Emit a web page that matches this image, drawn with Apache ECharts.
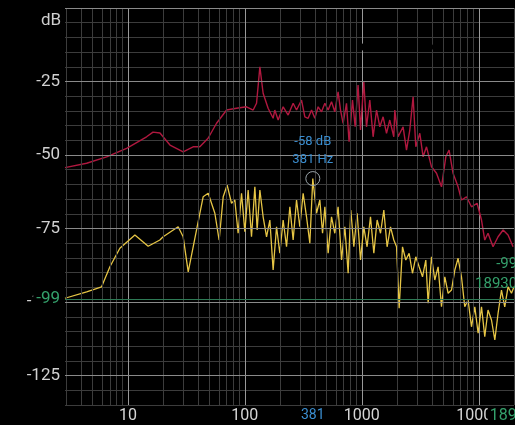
<!DOCTYPE html>
<html><head><meta charset="utf-8">
<script src="https://cdn.jsdelivr.net/npm/echarts@6/dist/echarts.min.js"></script>
<style>html,body{margin:0;padding:0;background:#000}#c{width:515px;height:425px}</style>
</head><body><div id="c"></div>
<script>
// ---- data (Hz, dB) ----
const freqRed = [2.9,4.44,6.58,9.75,14.45,16.4,18.8,22.9,29.7,36.1,41.2,48.5,57.3,69.8,84.9,103.4,117.8,125.9,134.4,143.3,158.1,174.5,180.3,192.6,212.5,234.5,258.8,276.6,305.2,325.8,347.6,371.7,396.3,423.2,452.4,483.1,515.4,550.8,587.5,627,657.7,691.8,739.6,778,832.6,877,929,974.7,1040,1096,1170,1249,1336,1426,1521,1626,1734,1877,1914,2043,2254,2410,2571,2745,2894,3132,3342,3573,3942,4351,4799,5224,5572,6026,6653,7112,7852,8662,9672,10550,11250,11990,13240,14620,16140,17790,19640];
const dbRed = [-54.3,-52.8,-50.6,-47.7,-43.8,-42.2,-42.5,-46.6,-48.9,-47.2,-47.2,-44.3,-39.2,-34.7,-34.1,-33.6,-34.7,-32.4,-20.0,-29.0,-34.1,-37.5,-34.7,-38.1,-33.6,-36.4,-32.4,-34.7,-31.3,-37.0,-37.5,-34.7,-37.5,-33.6,-35.3,-32.4,-34.7,-31.9,-35.3,-28.5,-34.7,-39.2,-32.4,-45.5,-31.3,-40.4,-26.2,-41.5,-25.1,-40.4,-31.3,-43.8,-34.7,-40.4,-37.0,-42.6,-38.1,-43.8,-34.7,-43.8,-40.4,-48.3,-41.5,-30.2,-47.2,-42.6,-50.6,-47.2,-54.0,-56.2,-60.8,-50.6,-48.3,-56.2,-60.8,-65.3,-64.2,-67.6,-66.4,-72.1,-78.9,-76.6,-81.2,-77.8,-75.5,-77.2,-81.2];
const freqYellow = [2.9,4.44,5.96,7.02,8.54,11.48,14.91,18.77,20.03,26.9,29.7,32.8,38.6,44.0,48.6,55.4,60.3,65.3,70.6,76.9,82.1,87.6,93.7,100,106.7,114.0,121.8,127.4,134.4,143.3,153.3,163.6,174.5,186.6,199.1,212.5,227.2,242.5,258.8,276.6,295.2,315,336.7,359.4,381,410,437.6,461.6,483.1,515.4,550.8,587.5,627,670.8,716,764,805,854.5,912,974.7,1040,1109,1186,1267,1352,1445,1542,1645,1759,1877,1981,2085,2228,2377,2537,2711,2894,3090,3303,3524,3690,3942,4207,4490,4799,5123,5467,5845,6237,6653,7112,7586,8099,8662,9247,9870,10550,11250,11990,12840,13710,14620,15630,16670,17790,19030,20000];
const dbYellow = [-98.7,-96.5,-94.8,-88.0,-81.7,-77.2,-81.0,-78.9,-77.8,-74.4,-77.8,-89.7,-75.5,-64.2,-63.0,-69.8,-78.9,-64.2,-60.2,-66.4,-65.3,-76.6,-63.0,-76.1,-61.9,-77.8,-60.8,-75.5,-61.9,-71.0,-77.8,-72.1,-89.1,-74.4,-83.4,-72.1,-81.2,-67.6,-78.9,-65.3,-74.4,-63.0,-71.0,-80.0,-58.0,-69.8,-65.3,-76.6,-67.6,-83.4,-71.0,-76.6,-67.6,-85.7,-74.4,-90.2,-68.7,-81.2,-69.8,-85.7,-74.4,-81.2,-71.0,-83.4,-72.1,-76.6,-68.7,-81.2,-74.4,-78.9,-81.2,-102.1,-81.2,-85.7,-83.4,-90.2,-84.6,-88.0,-91.4,-85.7,-100.4,-84.6,-92.5,-88.0,-101.6,-91.4,-97.0,-95.9,-89.1,-85.1,-91.4,-101.6,-99.3,-108.4,-101.6,-110.6,-101.6,-111.8,-102.7,-106.1,-112.9,-103.8,-95.9,-101.6,-94.8,-97.0,-94.8];
const xTickLabels = [10, 100, 1000, 10000];
const yTickLabels = [-25, -50, -75, -100, -125];
const majorDb = [0, -25, -50, -75, -100, -125];
const minorFreqs = [3,4,5,6,7,8,9,20,30,40,50,60,70,80,90,200,300,400,500,600,700,800,900,2000,3000,4000,5000,6000,7000,8000,9000,20000];
const peakFreq = 381, peakDb = -58;
const cursorFreq = 18930, cursorDb = -99;
const blackMarks = [[1000, -13.3], [3810, -13.3]];
// ---------------------

const red = freqRed.map((f, i) => [f, dbRed[i]]);
const yel = freqYellow.map((f, i) => [f, dbYellow[i]]);
const blue = '#3b8ed0', green = '#34a06b';

const chart = echarts.init(document.getElementById('c'), null, {renderer: 'canvas'});
chart.setOption({
  backgroundColor: '#000',
  animation: false,
  title: {text: 'dB', left: 36, top: 7, textStyle: {color: '#cfcfcf', fontSize: 17, fontWeight: 'normal', fontFamily: 'Roboto'}},
  grid: {left: 65, right: 1, top: 8, bottom: 20},
  xAxis: {
    type: 'log', logBase: 10, min: 2.9, max: 20000,
    axisLine: {show: false}, axisTick: {show: false},
    splitLine: {show: true, showMinLine: false, showMaxLine: false, lineStyle: {color: '#999999', width: 1}},
    axisLabel: {
      color: '#d6d6d6', fontSize: 16, fontFamily: 'Roboto', margin: 3,
      showMinLabel: false, showMaxLabel: false,
      formatter: v => { const r = Math.round(v); return xTickLabels.includes(r) ? String(r) : ''; }
    }
  },
  yAxis: {
    type: 'value', min: -135, max: 0, interval: 5,
    axisLine: {show: false}, axisTick: {show: false},
    splitLine: {show: true, lineStyle: {color: '#3c3c3c', width: 1}},
    axisLabel: {
      color: '#d0d0d0', fontSize: 17, fontFamily: 'Roboto', margin: 5,
      formatter: v => yTickLabels.includes(Math.round(v)) ? String(Math.round(v)) : ''
    }
  },
  series: [
    {
      type: 'line', data: [], silent: true, z: 1,
      markLine: {
        silent: true, symbol: 'none', label: {show: false}, animation: false,
        lineStyle: {color: '#3c3c3c', width: 1, type: 'solid'},
        data: minorFreqs.map(f => ({xAxis: f}))
      }
    },
    {
      type: 'line', data: [], silent: true, z: 1,
      markLine: {
        silent: true, symbol: 'none', label: {show: false}, animation: false,
        lineStyle: {color: '#8a8a8a', width: 1, type: 'solid'},
        data: majorDb.map(d => ({yAxis: d}))
      }
    },
    {
      name: 'red', type: 'line', data: red, showSymbol: false, z: 3,
      lineStyle: {color: '#b0183f', width: 1.4}
    },
    {
      name: 'yellow', type: 'line', data: yel, showSymbol: false, z: 4,
      lineStyle: {color: '#e6c545', width: 1.3},
      markLine: {
        silent: true, symbol: 'none', animation: false,
        lineStyle: {color: '#2e7a55', width: 1.2, type: 'solid'},
        label: {show: true, position: 'start', distance: 5, formatter: String(cursorDb),
                color: green, fontSize: 17, fontFamily: 'Roboto', backgroundColor: '#000', padding: [1, 0, 0, 3]},
        data: [{yAxis: cursorDb}]
      },
      markPoint: {
        silent: true, animation: false,
        data: [
          {coord: [peakFreq, peakDb], symbol: 'circle', symbolSize: 14,
           itemStyle: {color: 'rgba(0,0,0,0)', borderColor: '#9aa4aa', borderWidth: 1},
           label: {show: true, position: 'top', distance: 2, formatter: peakDb + ' dB\n' + peakFreq + ' Hz',
                   color: blue, fontSize: 13, lineHeight: 18, fontFamily: 'Roboto'}},
          {coord: [peakFreq, -135], symbol: 'circle', symbolSize: 0,
           label: {show: true, position: 'bottom', distance: 3, formatter: String(peakFreq),
                   color: blue, fontSize: 14, fontFamily: 'Roboto', backgroundColor: '#000'}},
          {coord: [cursorFreq, cursorDb], symbol: 'circle', symbolSize: 0,
           label: {show: true, position: 'top', distance: 5, align: 'right', offset: [6, 0],
                   formatter: cursorDb + '\n' + cursorFreq, color: green, fontSize: 15, lineHeight: 20, fontFamily: 'Roboto'}},
          {coord: [cursorFreq, -135], symbol: 'circle', symbolSize: 0,
           label: {show: true, position: 'bottom', distance: 3, formatter: String(cursorFreq),
                   color: green, fontSize: 16, fontFamily: 'Roboto', backgroundColor: '#000', padding: [0, 0, 0, 2]}},
          ...blackMarks.map(p => ({coord: p, symbol: 'circle', symbolSize: 7, itemStyle: {color: '#000'}, label: {show: false}}))
        ]
      }
    }
  ]
});
</script></body></html>
